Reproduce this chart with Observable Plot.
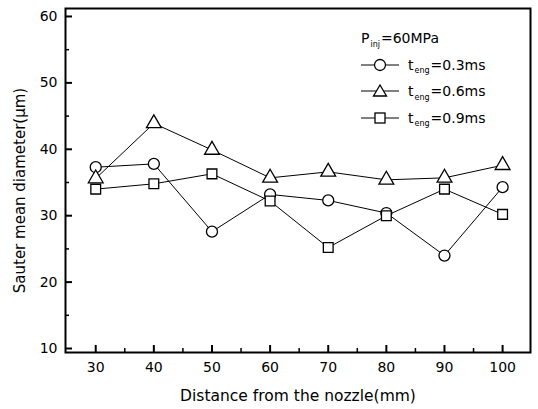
<!DOCTYPE html>
<html><head><meta charset="utf-8">
<script src="https://cdn.jsdelivr.net/npm/d3@7"></script>
<script src="https://cdn.jsdelivr.net/npm/@observablehq/plot@0.6"></script>
<style>
body{margin:0;background:#fff;font-family:"DejaVu Sans",sans-serif;}
#wrap{position:relative;width:538px;height:409px;}
#legend{position:absolute;left:361px;top:25px;font-size:14px;color:#000;}
#legend .row{display:flex;align-items:center;height:26.5px;white-space:nowrap;}
#legend .sub{font-size:8px;position:relative;top:6px;margin:0 1px 0 1px;}
#legend svg{margin-right:9px;}
</style></head>
<body><div id="wrap"><div id="legend"></div></div>
<script>
const distances = [30, 40, 50, 60, 70, 80, 90, 100];
const series03 = [37.3, 37.8, 27.6, 33.2, 32.3, 30.4, 24.0, 34.3];
const series06 = [35.6, 43.9, 39.9, 35.7, 36.6, 35.4, 35.7, 37.6];
const series09 = [34.0, 34.8, 36.3, 32.2, 25.2, 30.0, 34.0, 30.2];
const seriesNames = ["0.3ms", "0.6ms", "0.9ms"];
const seriesSymbols = ["circle", "triangle", "square"];
const xTicks = [30, 40, 50, 60, 70, 80, 90, 100];
const yTicks = [10, 20, 30, 40, 50, 60];
const xMinor = [35, 45, 55, 65, 75, 85, 95];
const yMinor = [15, 25, 35, 45, 55];

const W = 538, H = 409, mL = 65, mR = 8, mT = 8, mB = 57;
const allSeries = [series03, series06, series09];
const data = allSeries.flatMap((vals, i) => vals.map((v, j) => ({x: distances[j], y: v, s: seriesNames[i]})));

const chart = Plot.plot({
  width: W, height: H,
  marginLeft: mL, marginRight: mR, marginTop: mT, marginBottom: mB,
  style: {fontFamily: "DejaVu Sans, sans-serif", fontSize: "14px", color: "#000", background: "#fff"},
  x: {domain: [24.8, 104.8]},
  y: {domain: [9.4, 61.2]},
  symbol: {domain: seriesNames, range: seriesSymbols},
  marks: [
    Plot.line(data, {x: "x", y: "y", z: "s", stroke: "#000", strokeWidth: 1}),
    Plot.dot(data, {x: "x", y: "y", symbol: "s", r: 5.5, stroke: "#000", fill: "#fff", strokeWidth: 1.3}),
    Plot.tickX(xTicks, {x: d => d, insetTop: H - mT - mB - 7, stroke: "#000", strokeWidth: 2}),
    Plot.tickX(xMinor, {x: d => d, insetTop: H - mT - mB - 4, stroke: "#000", strokeWidth: 1.5}),
    Plot.tickY(yTicks, {y: d => d, insetRight: W - mL - mR - 7, stroke: "#000", strokeWidth: 2}),
    Plot.tickY(yMinor, {y: d => d, insetRight: W - mL - mR - 4, stroke: "#000", strokeWidth: 1.5}),
    Plot.axisX(xTicks, {tickSize: 0, tickPadding: 10, fontSize: 14, fill: "#000", label: null}),
    Plot.axisY(yTicks, {tickSize: 0, tickPadding: 8, fontSize: 14, fill: "#000", label: null}),
    Plot.text(["Distance from the nozzle(mm)"], {frameAnchor: "bottom", dy: 48, fontSize: 15.5, fill: "#000"}),
    Plot.text(["Sauter mean diameter(μm)"], {frameAnchor: "left", textAnchor: "middle", dx: -45, dy: 10, rotate: -90, fontSize: 15, fill: "#000"}),
    Plot.frame({stroke: "#000", strokeWidth: 2})
  ]
});
document.getElementById("wrap").prepend(chart);

const legend = document.getElementById("legend");
const title = document.createElement("div");
title.className = "row";
title.innerHTML = 'P<span class="sub">inj</span>=60MPa';
legend.appendChild(title);
const symPaths = {
  circle: '<circle cx="19" cy="8" r="5.5" fill="#fff" stroke="#000" stroke-width="1.3"/>',
  triangle: '<path d="M19,2L25.5,13H12.5Z" fill="#fff" stroke="#000" stroke-width="1.3"/>',
  square: '<rect x="14" y="3" width="10" height="10" fill="#fff" stroke="#000" stroke-width="1.3"/>'
};
seriesNames.forEach((n, i) => {
  const row = document.createElement("div");
  row.className = "row";
  row.innerHTML = '<svg width="38" height="16"><line x1="0" y1="8" x2="38" y2="8" stroke="#000" stroke-width="1"/>' + symPaths[seriesSymbols[i]] + '</svg>t<span class="sub">eng</span>=' + n;
  legend.appendChild(row);
});
</script></body></html>
